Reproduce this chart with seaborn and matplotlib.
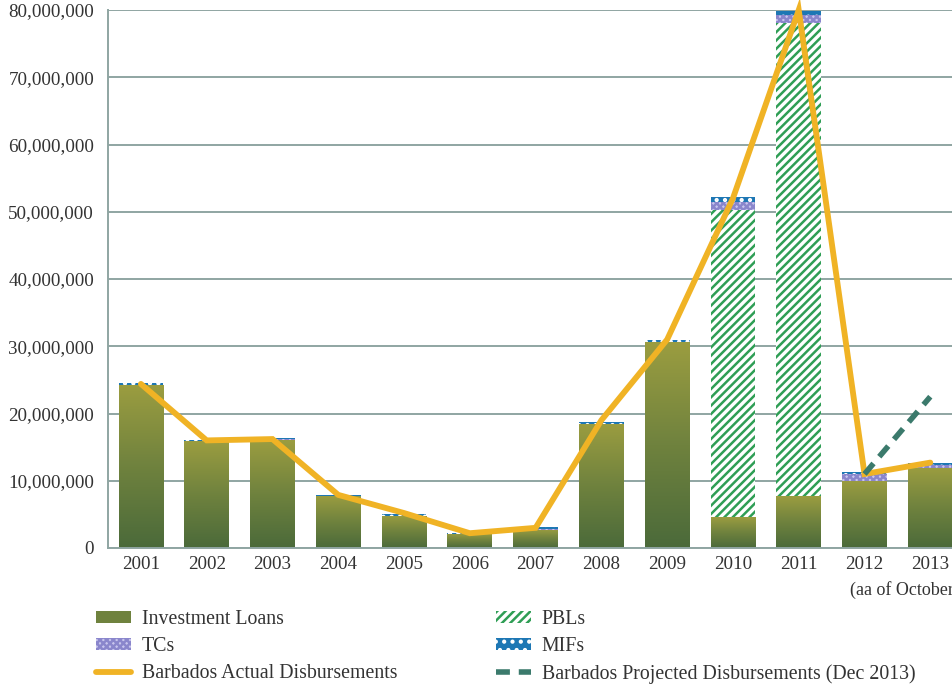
import numpy as np
import pandas as pd
import matplotlib
matplotlib.use("Agg")
import matplotlib.pyplot as plt
import seaborn as sns
from matplotlib.patches import Patch
from matplotlib.lines import Line2D
from matplotlib.ticker import FuncFormatter
from matplotlib.colors import LinearSegmentedColormap

years = ['2001', '2002', '2003', '2004', '2005', '2006', '2007',
         '2008', '2009', '2010', '2011', '2012', '2013']
note_2013 = '(aa of October 2013)'
invest = [24.2, 15.9, 16.0, 7.8, 4.8, 2.1, 2.7, 18.5, 30.6, 4.6, 7.7, 10.0, 11.9]
pbls = [0, 0, 0, 0, 0, 0, 0, 0, 0, 45.6, 70.4, 0, 0]
tcs = [0, 0, 0.2, 0, 0, 0, 0.1, 0, 0, 1.2, 1.1, 1.0, 0.4]
mifs = [0.3, 0.1, 0.1, 0.1, 0.3, 0.1, 0.3, 0.3, 0.3, 0.8, 0.7, 0.3, 0.4]
actual = [24.4, 16.0, 16.2, 7.9, 5.2, 2.2, 3.0, 19.0, 31.0, 52.0, 80.0, 11.0, 12.7]
proj_years = ['2012', '2013']
projected = [11.0, 22.5]

M = 1e6
df = pd.DataFrame({'year': years,
                   'invest': np.array(invest) * M,
                   'pbl': np.array(pbls) * M,
                   'tc': np.array(tcs) * M,
                   'mif': np.array(mifs) * M,
                   'actual': np.array(actual) * M})
df['c_pbl'] = df['invest'] + df['pbl']
df['c_tc'] = df['c_pbl'] + df['tc']
df['c_mif'] = df['c_tc'] + df['mif']
df['pos'] = np.arange(len(df))

sns.set_theme(style='white')
plt.rcParams['font.family'] = ['Liberation Serif', 'DejaVu Serif']
plt.rcParams['hatch.linewidth'] = 1.8

fig = plt.figure(figsize=(9.52, 6.84), dpi=100)
ax = fig.add_axes([108/952, 1 - 548/684, 1 - 108/952, (548 - 10)/684])

grid_c = '#8fa5a2'
txt_c = '#333333'
for v in range(0, 80000001, 10000000):
    ax.axhline(v, color=grid_c, lw=1.4, zorder=0)

W = 0.68
C_MIF = '#1d77b4'
C_TC = '#8a86cc'
C_PBL = '#2f9e55'

sns.barplot(data=df, x='year', y='c_mif', color=C_MIF, saturation=1, width=W,
            edgecolor='white', linewidth=0, hatch='..', ax=ax, zorder=2)
sns.barplot(data=df, x='year', y='c_tc', color='#c9c6ee', saturation=1, width=W,
            edgecolor=C_TC, linewidth=0, hatch='xxxxx', ax=ax, zorder=2)
sns.barplot(data=df, x='year', y='c_pbl', color='white', saturation=1, width=W,
            edgecolor=C_PBL, linewidth=0, hatch='////', ax=ax, zorder=2)
n_before = len(ax.patches)
sns.barplot(data=df, x='year', y='invest', color='#6f823e', saturation=1, width=W,
            linewidth=0, ax=ax, zorder=2)

# gradient fill for investment loan bars
cmap = LinearSegmentedColormap.from_list('g', ['#4b6a3a', '#6f823e', '#9b9d40'])
grad = np.linspace(0, 1, 256).reshape(-1, 1)
for p in ax.patches[n_before:]:
    x0, y0 = p.get_x(), p.get_y()
    w, h = p.get_width(), p.get_height()
    if h <= 0:
        continue
    im = ax.imshow(grad, cmap=cmap, origin='lower', aspect='auto',
                   extent=[x0, x0 + w, y0, y0 + h], zorder=2.5)
    im.set_clip_path(p)

C_ACT = '#f0b325'
C_PROJ = '#3b7a6c'
sns.lineplot(x=df['pos'], y=df['actual'], color=C_ACT, lw=4.2, ax=ax,
             zorder=4, clip_on=False, solid_joinstyle='miter')
proj_pos = [years.index(y) for y in proj_years]
sns.lineplot(x=proj_pos, y=np.array(projected) * M, color=C_PROJ, lw=4,
             ax=ax, zorder=5, dashes=[(2.5, 1.6)], style=[0, 0], legend=False)

ax.set_xlim(-0.5, 12.33)
ax.set_ylim(0, 80000000)
ax.set_xticks(range(len(years)))
ax.set_xticklabels(years)
ax.set_xlabel('')
ax.set_ylabel('')
ax.yaxis.set_major_formatter(FuncFormatter(lambda v, p: f'{int(v):,}'))
ax.set_yticks(range(0, 80000001, 10000000))
ax.tick_params(axis='both', length=0, labelsize=13.7, colors=txt_c)
ax.tick_params(axis='y', pad=10)
ax.tick_params(axis='x', pad=6)
for s in ['top', 'right']:
    ax.spines[s].set_visible(False)
for s in ['left', 'bottom']:
    ax.spines[s].set_color(grid_c)
    ax.spines[s].set_linewidth(1.4)
ax.spines['bottom'].set_zorder(6)
ax.grid(False)

fig.text(850/952, 1 - 590/684, note_2013, ha='left', va='center',
         fontsize=13, color=txt_c)

h1 = [Patch(facecolor='#6f823e', edgecolor='none'),
      Patch(facecolor='#c9c6ee', edgecolor=C_TC, hatch='xxxxx', lw=0),
      Line2D([0], [0], color=C_ACT, lw=4.2)]
l1 = ['Investment Loans', 'TCs', 'Barbados Actual Disbursements']
h2 = [Patch(facecolor='white', edgecolor=C_PBL, hatch='////', lw=0),
      Patch(facecolor=C_MIF, edgecolor='white', hatch='..', lw=0),
      Line2D([0], [0], color=C_PROJ, lw=4, dashes=(2.5, 1.6))]
l2 = ['PBLs', 'MIFs', 'Barbados Projected Disbursements (Dec 2013)']
kw = dict(frameon=False, fontsize=14.3, handlelength=1.75, handleheight=0.5,
          labelspacing=0.40, handletextpad=0.55, borderaxespad=0, borderpad=0,
          labelcolor=txt_c)
fig.legend(h1, l1, loc='upper left', bbox_to_anchor=(96/952, 1 - 610/684), **kw)
fig.legend(h2, l2, loc='upper left', bbox_to_anchor=(496/952, 1 - 610/684), **kw)

fig.savefig('out.png', dpi=100)
